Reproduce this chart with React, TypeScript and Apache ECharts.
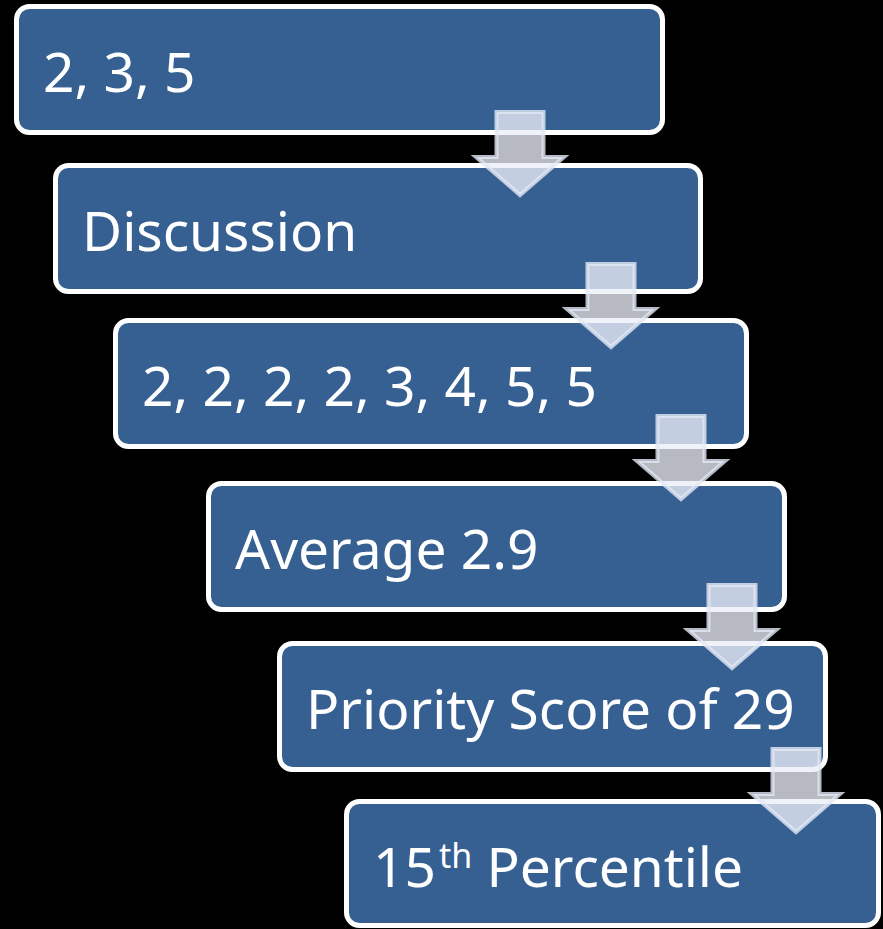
import React, { useEffect, useRef } from "react";
import * as echarts from "echarts";

// Step labels (top to bottom)
const stepLabels = ["2, 3, 5", "Discussion", "2, 2, 2, 2, 3, 4, 5, 5", "Average 2.9", "Priority Score of 29"];
// Last step has a superscript ordinal
const lastLabelMain = "15";
const lastLabelSup = "th";
const lastLabelRest = " Percentile";

// Layout (outer edges of white-bordered boxes): [x, y, w, h]
const boxLayout: number[][] = [
  [14, 4, 651, 131],
  [53, 163, 650, 131],
  [113, 318, 636, 131],
  [206, 481, 581, 131],
  [277, 641, 551, 131],
  [344, 799, 537, 129],
];
// Arrow layout: [centerX, topY]
const arrowLayout: number[][] = [
  [520, 110],
  [611, 262],
  [681, 414],
  [732, 583],
  [796, 747],
];

const FONT = "'Noto Sans', 'Open Sans', sans-serif";
const FS = 55;

function measure(text: string, size: number): number {
  const c = document.createElement("canvas");
  const ctx = c.getContext("2d");
  if (!ctx) return text.length * size * 0.55;
  ctx.font = `${size}px 'Noto Sans'`;
  return ctx.measureText(text).width;
}

export default function App() {
  const ref = useRef<HTMLDivElement>(null);
  useEffect(() => {
    if (!ref.current) return;
    const chart = echarts.init(ref.current, null, { renderer: "svg" });
    const sw = 5;
    const elements: any[] = [];
    boxLayout.forEach((b, i) => {
      const [x, y, w, h] = b;
      elements.push({
        type: "rect",
        shape: { x: x + sw / 2, y: y + sw / 2, width: w - sw, height: h - sw, r: 13 },
        style: { fill: "#376092", stroke: "#ffffff", lineWidth: sw },
      });
      const tx = x + 29;
      const ty = y + 66;
      if (i < stepLabels.length) {
        elements.push({
          type: "text",
          x: tx,
          y: ty,
          style: { text: stepLabels[i], fill: "#ffffff", font: `${FS}px ${FONT}`, align: "left", verticalAlign: "middle" },
        });
      } else {
        const w1 = measure(lastLabelMain, FS);
        const supSize = 34;
        const w2 = measure(lastLabelSup, supSize);
        elements.push({
          type: "text", x: tx, y: ty,
          style: { text: lastLabelMain, fill: "#ffffff", font: `${FS}px ${FONT}`, align: "left", verticalAlign: "middle" },
        });
        elements.push({
          type: "text", x: tx + w1 + 3, y: y + 56,
          style: { text: lastLabelSup, fill: "#ffffff", font: `${supSize}px ${FONT}`, align: "left", verticalAlign: "middle" },
        });
        elements.push({
          type: "text", x: tx + w1 + 3 + w2, y: ty,
          style: { text: lastLabelRest, fill: "#ffffff", font: `${FS}px ${FONT}`, align: "left", verticalAlign: "middle" },
        });
      }
    });
    const shaftW = 51, headW = 96, shaftH = 45, totalH = 88;
    arrowLayout.forEach(([cx, top]) => {
      const i2 = 2;
      const pts = [
        [cx - shaftW / 2 + i2, top + i2],
        [cx + shaftW / 2 - i2, top + i2],
        [cx + shaftW / 2 - i2, top + shaftH + i2],
        [cx + headW / 2 - 4, top + shaftH + i2],
        [cx, top + totalH - 3],
        [cx - headW / 2 + 4, top + shaftH + i2],
        [cx - shaftW / 2 + i2, top + shaftH + i2],
      ];
      elements.push({
        type: "polygon",
        shape: { points: pts },
        style: { fill: "rgba(234,238,247,0.78)", stroke: "rgba(226,233,246,0.8)", lineWidth: 4, lineJoin: "miter" },
      });
    });
    chart.setOption({
      animation: false,
      backgroundColor: "#000000",
      graphic: { elements },
    });
    return () => chart.dispose();
  }, []);
  return (
    <div
      ref={ref}
      style={{ position: "fixed", left: 0, top: 0, width: 883, height: 929, background: "#000" }}
    />
  );
}
